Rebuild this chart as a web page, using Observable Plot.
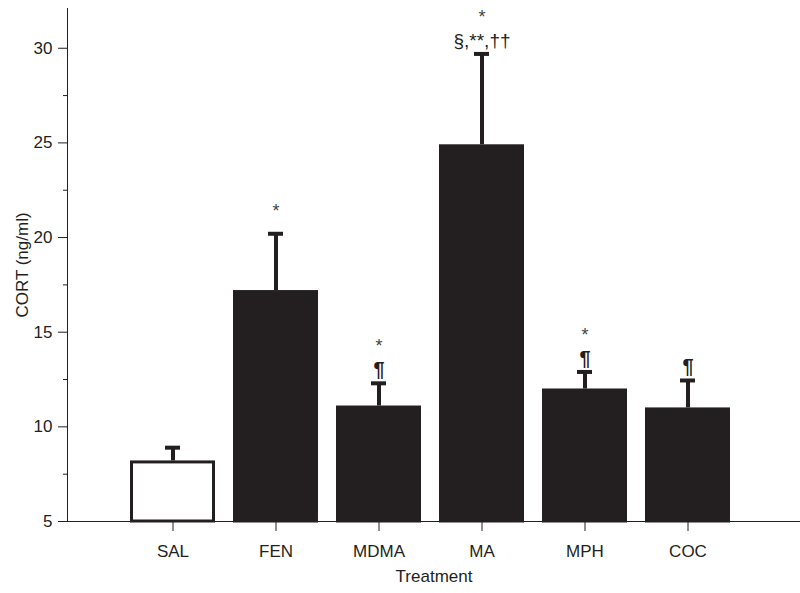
<!DOCTYPE html>
<html>
<head>
<meta charset="utf-8">
<script src="https://cdn.jsdelivr.net/npm/d3@7"></script>
<script src="https://cdn.jsdelivr.net/npm/@observablehq/plot@0.6"></script>
<style>
  html, body { margin: 0; padding: 0; background: #fff; }
  #chart { width: 800px; height: 593px; }
  svg { font-family: "Liberation Sans", Arial, Helvetica, sans-serif; }
</style>
</head>
<body>
<div id="chart"></div>
<script>
// Data
const categories = ["SAL", "FEN", "MDMA", "MA", "MPH", "COC"];
const means      = [8.2, 17.2, 11.1, 24.9, 12.0, 11.0];
const upperErr   = [8.9, 20.2, 12.3, 29.7, 12.9, 12.45];
const sigNear    = ["", "", "¶", "§,**,††", "¶", "¶"];
const sigMid     = ["", "*", "", "", "", ""];
const sigTop     = ["", "", "*", "*", "*", ""];
const yTicks     = [5, 10, 15, 20, 25, 30];
const yMinorTicks = [7.5, 12.5, 17.5, 22.5, 27.5];
const yLabel = "CORT (ng/ml)";
const xLabel = "Treatment";
const controlGroup = "SAL";

const data = categories.map((t, i) => ({
  t, mean: means[i], upper: upperErr[i],
  near: sigNear[i], mid: sigMid[i], top: sigTop[i]
}));

const ink = "#231f20";
const baseline = yTicks[0];
const isPilcrow = d => d.near === "¶";

const chart = Plot.plot({
  width: 800,
  height: 593,
  marginLeft: 67,
  marginRight: 0,
  marginTop: 8,
  marginBottom: 72,
  style: { fontFamily: "'Liberation Sans', Arial, Helvetica, sans-serif", color: ink, background: "white" },
  x: { domain: categories, range: [67, 794], paddingInner: 0.17, paddingOuter: 0.587 },
  y: { domain: [5, 32.1] },
  marks: [
    Plot.barY(data, {
      x: "t", y1: () => baseline, y2: "mean",
      fill: d => d.t === controlGroup ? "white" : ink,
      stroke: ink, strokeWidth: 3, insetLeft: 1.5, insetRight: 1.5, insetTop: 1.5, insetBottom: 0
    }),
    Plot.ruleX(data, { x: "t", y1: "mean", y2: "upper", stroke: ink, strokeWidth: 4 }),
    Plot.tickY(data, { x: "t", y: "upper", stroke: ink, strokeWidth: 4, insetLeft: 35, insetRight: 35 }),
    Plot.text(data.filter(isPilcrow), { x: "t", y: "upper", text: "near", dy: -13.5, fontSize: 20, fontWeight: "bold", fill: ink }),
    Plot.text(data.filter(d => !isPilcrow(d)), { x: "t", y: "upper", text: "near", dy: -13, fontSize: 19, fill: ink }),
    Plot.text(data, { x: "t", y: "upper", text: "mid", dy: -23, fontSize: 18, fill: "#444" }),
    Plot.text(data, { x: "t", y: "upper", text: "top", dy: -37, fontSize: 18, fill: "#444" }),
    Plot.ruleY([baseline], { stroke: ink, strokeWidth: 1 }),
    Plot.frame({ anchor: "left", stroke: ink, strokeWidth: 1 }),
    Plot.axisY({ ticks: yTicks, tickSize: 9, tickPadding: 6, fontSize: 17, stroke: ink,
                 label: yLabel, labelAnchor: "center", labelArrow: "none", labelOffset: 52 }),
    Plot.axisY({ ticks: yMinorTicks, tickSize: 4, tickFormat: () => "", label: null, stroke: ink }),
    Plot.axisX({ tickSize: 10, tickPadding: 13, fontSize: 17, label: null, stroke: ink }),
    Plot.text([xLabel], { frameAnchor: "bottom", dy: 60, fontSize: 17, fill: ink })
  ]
});

document.getElementById("chart").appendChild(chart);
</script>
</body>
</html>
